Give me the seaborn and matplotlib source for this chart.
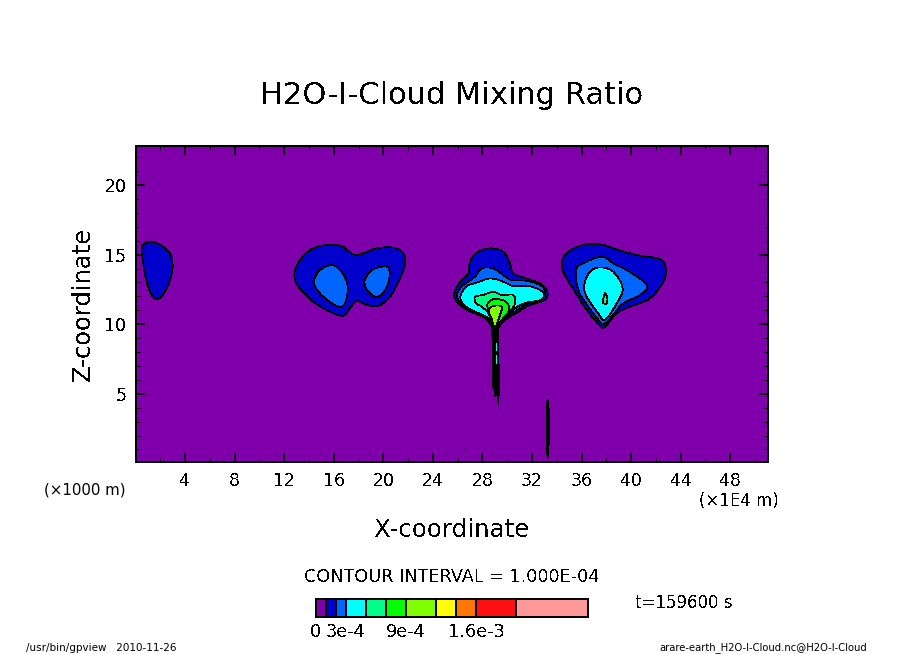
import numpy as np
import pandas as pd
import matplotlib
matplotlib.use("Agg")
import matplotlib.pyplot as plt
import seaborn as sns

# colour-bar levels (mixing ratio) and colours
bar_levels = [0, 1e-4, 2e-4, 3e-4, 5e-4, 7e-4, 9e-4, 1.2e-3, 1.4e-3, 1.6e-3, 2.0e-3, 2.72e-3]
bar_colors = ["#7f00aa", "#0000cc", "#0066ff", "#00ffff", "#00ff88", "#00ff00",
              "#7fff00", "#ffff00", "#ff7700", "#ff1111", "#ff9999"]
bar_ticks = [0, 3e-4, 9e-4, 1.6e-3]
bar_ticklabels = ["0", "3e-4", "9e-4", "1.6e-3"]

# contour outlines: x in 1E4 m, z in 1000 m
a1_x = [0.50,0.90,1.57,2.24,2.78,3.00,2.84,2.38,1.76,1.31,0.90,0.63]
a1_z = [15.45,15.88,15.88,15.56,15.08,14.25,13.29,12.33,11.79,12.10,13.05,14.25]

b1_x = [12.82,13.28,14.22,15.43,16.64,17.45,18.12,19.47,20.81,21.62,21.75,21.21,20.54,19.60,18.66,17.85,17.31,16.77,15.70,14.35,13.14]
b1_z = [13.65,14.61,15.40,15.69,15.61,15.09,15.02,15.45,15.50,15.09,14.25,13.05,11.97,11.31,11.38,11.67,11.14,10.61,10.90,11.61,12.69]
b2_x = [14.43,14.89,15.84,16.51,17.05,17.09,16.77,16.10,15.16,14.57]
b2_z = [13.17,13.89,14.25,13.89,13.05,12.10,11.31,11.38,11.97,12.58]
b3_x = [18.50,18.93,19.60,20.40,20.48,20.14,19.47,18.79,18.52]
b3_z = [13.17,13.77,14.08,14.08,13.29,12.45,11.95,12.33,12.81]

c1_x = [25.73,26.19,26.86,27.00,27.54,28.61,29.68,30.22,30.49,31.57,32.66,33.24,33.05,31.84,30.92,29.83,29.02,28.21,26.73,25.93]
c1_z = [12.22,13.05,13.65,14.49,15.14,15.45,15.21,14.37,13.65,13.29,12.93,12.33,11.74,11.38,10.90,10.30,9.64,10.43,11.03,11.61]
c2_x = [25.97,26.46,27.40,27.94,28.87,29.68,30.36,31.57,32.66,33.08,32.79,31.71,30.63,29.56,29.02,28.35,26.87,26.14]
c2_z = [12.22,12.81,13.41,14.01,14.01,13.53,13.17,13.12,12.81,12.33,11.79,11.50,10.90,10.18,9.70,10.43,11.09,11.61]
c3_x = [26.25,26.73,27.54,28.61,29.68,30.49,31.71,32.66,32.98,32.66,31.57,30.63,29.68,29.00,28.47,26.87,26.33]
c3_z = [12.10,12.74,12.98,13.29,13.05,12.74,12.74,12.45,12.10,11.69,11.55,11.14,10.30,9.78,10.43,11.14,11.61]
c4_x = [27.40,28.07,28.88,29.56,30.49,30.63,30.22,29.68,29.02,28.61,27.94,27.48]
c4_z = [11.97,12.10,12.33,12.10,12.10,11.50,10.90,10.43,9.78,10.66,11.26,11.50]
c5_x = [28.43,28.88,29.82,30.17,29.82,29.02,28.56,28.43]
c5_z = [11.50,11.79,11.67,11.14,10.54,9.78,10.66,11.14]
c6_x = [28.56,29.02,29.56,29.42,29.02,28.75,28.56]
c6_z = [11.14,11.33,11.26,10.66,9.78,10.30,10.66]

d1_x = [34.40,34.67,35.88,37.49,38.97,40.73,42.34,42.80,42.61,41.53,39.92,38.84,37.90,37.49,36.42,35.47,34.80]
d1_z = [14.13,14.97,15.64,15.74,15.33,14.92,14.68,14.01,13.05,11.86,11.26,10.78,9.82,9.89,11.02,12.33,13.30]
d2_x = [35.55,36.14,37.63,38.56,39.77,41.26,40.72,39.37,38.56,37.89,37.49,36.54,35.74]
d2_z = [13.89,14.37,14.85,14.37,13.82,12.81,12.10,11.50,10.66,10.06,10.18,11.26,12.46]
d3_x = [36.22,36.68,37.49,38.56,39.32,38.84,37.89,37.35,36.42]
d3_z = [12.81,13.77,14.08,13.77,12.58,11.50,10.30,10.78,11.97]
d4_x = [37.71,37.89,38.08,38.03,37.76]
d4_z = [11.62,12.22,11.86,11.50,11.50]

# densely packed contour lines, which read as solid black
stem_x = [28.76,29.32,29.28,29.40,29.40,29.28,29.20,29.02,28.84]
stem_z = [9.70,9.70,7.67,6.47,5.51,4.20,5.05,4.81,5.51]
spike_x = [33.19,33.32,33.40,33.37,33.29,33.13,33.19]
spike_z = [4.44,4.61,3.60,0.97,0.37,0.97,3.60]
speck_x = [26.62,26.62]
speck_z = [0.83,1.11]
dash1_x = [29.06,29.06]
dash1_z = [8.15,8.63]
dash2_x = [29.06,29.06]
dash2_z = [7.21,7.79]

contours = [
    (1, a1_x, a1_z), (1, b1_x, b1_z), (1, c1_x, c1_z), (1, d1_x, d1_z),
    (2, b2_x, b2_z), (2, b3_x, b3_z), (2, c2_x, c2_z), (2, d2_x, d2_z),
    (3, c3_x, c3_z), (3, d3_x, d3_z),
    (4, c4_x, c4_z), (4, d4_x, d4_z),
    (5, c5_x, c5_z),
    (6, c6_x, c6_z),
]

sns.set_theme(style="ticks")
plt.rcParams.update({
    "font.family": ["DejaVu Sans"],
    "text.antialiased": False,
    "lines.antialiased": False,
    "patch.antialiased": False,
})

W, H = 904, 654
fig = plt.figure(figsize=(W / 100, H / 100), dpi=100, facecolor="white")

def box(l, t, r, b):
    return [l / W, 1 - b / H, (r - l) / W, (b - t) / H]

def label(x, y, s, size, **kw):
    fig.text(x / W, 1 - y / H, s, fontsize=size, color="black",
             ha="center", va="center", **kw)

def rounded(xs, zs, n=6):
    """Rounded closed outline through the read points (line style only)."""
    p = np.column_stack([xs, zs])
    t = np.linspace(0, 1, n, endpoint=False)[:, None]
    out = []
    for i in range(len(p)):
        p0, p1, p2, p3 = p[i - 1], p[i], p[(i + 1) % len(p)], p[(i + 2) % len(p)]
        out.append(0.5 * (2 * p1 + (p2 - p0) * t + (2 * p0 - 5 * p1 + 4 * p2 - p3) * t ** 2
                          + (3 * p1 - p0 - 3 * p2 + p3) * t ** 3))
    out = np.vstack(out)
    return np.vstack([out, out[:1]])

ax = fig.add_axes(box(136, 146, 768, 462))
ax.set_facecolor(bar_colors[0])
ax.set_xlim(0.04, 51.05)
ax.set_ylim(0.1, 22.8)

frames = []
for i, (lev, xs, zs) in enumerate(contours):
    outline = rounded(xs, zs)
    ax.fill(outline[:, 0], outline[:, 1], facecolor=bar_colors[lev], edgecolor="none",
            antialiased=False, zorder=lev)
    frames.append(pd.DataFrame({"x": outline[:, 0], "z": outline[:, 1], "contour": i}))
df = pd.concat(frames, ignore_index=True)
sns.lineplot(data=df, x="x", y="z", units="contour", estimator=None, sort=False,
             color="black", lw=0.55, ax=ax, legend=False, zorder=8)

ax.fill(stem_x, stem_z, color="black", lw=0, zorder=9, antialiased=False)
ax.fill(spike_x, spike_z, color="black", lw=0, zorder=9, antialiased=False)
ax.plot(speck_x, speck_z, color="black", lw=0.6, zorder=9)
ax.plot(dash1_x, dash1_z, color="#00ffff", lw=0.6, zorder=10)
ax.plot(dash2_x, dash2_z, color="#00ffff", lw=0.6, zorder=10)

ax.set_xlabel("")
ax.set_ylabel("")
ax.set_xticks(np.arange(4, 49, 4))
ax.set_xticks(np.arange(2, 51, 2), minor=True)
ax.set_yticks([5, 10, 15, 20])
ax.set_yticks(np.arange(1, 23, 1), minor=True)
ax.tick_params(which="major", direction="in", length=6.5, width=1.2, top=True, right=True,
               labelsize=12.5, pad=7, color="black", labelcolor="black")
ax.tick_params(which="minor", direction="in", length=3.2, width=0.7, top=True, right=True, color="black")
for s in ax.spines.values():
    s.set_visible(True)
    s.set_linewidth(1.2)
    s.set_color("black")
    s.set_zorder(20)

label(452, 95, "H2O-I-Cloud Mixing Ratio", 22)
label(452, 530, "X-coordinate", 17.6)
label(83, 304, "Z-coordinate", 17.4, rotation=90)
label(85, 490, "(×1000 m)", 10.8, antialiased=True)
label(739, 501, "(×1E4 m)", 12)
label(452, 577, "CONTOUR INTERVAL = 1.000E-04", 12.7)
label(684, 603, "t=159600 s", 12)
label(101, 648, "/usr/bin/gpview   2010-11-26", 7.5, antialiased=True)
label(763, 648, "arare-earth_H2O-I-Cloud.nc@H2O-I-Cloud", 7.2, antialiased=True)

cax = fig.add_axes(box(316, 599, 588, 617))
cax.pcolormesh(bar_levels, [0, 1], np.arange(len(bar_colors)).reshape(1, -1),
               cmap=matplotlib.colors.ListedColormap(bar_colors),
               edgecolors="black", linewidth=1.1, antialiased=False)
cax.set_xlim(bar_levels[0], bar_levels[-1])
cax.set_ylim(0, 1)
cax.set_yticks([])
cax.set_xticks(bar_ticks)
cax.set_xticklabels(bar_ticklabels, fontsize=12.8, color="black")
cax.tick_params(axis="x", length=0, pad=4)
for s in cax.spines.values():
    s.set_visible(True)
    s.set_linewidth(1.2)
    s.set_color("black")

fig.savefig("out.png", dpi=100, facecolor="white")
